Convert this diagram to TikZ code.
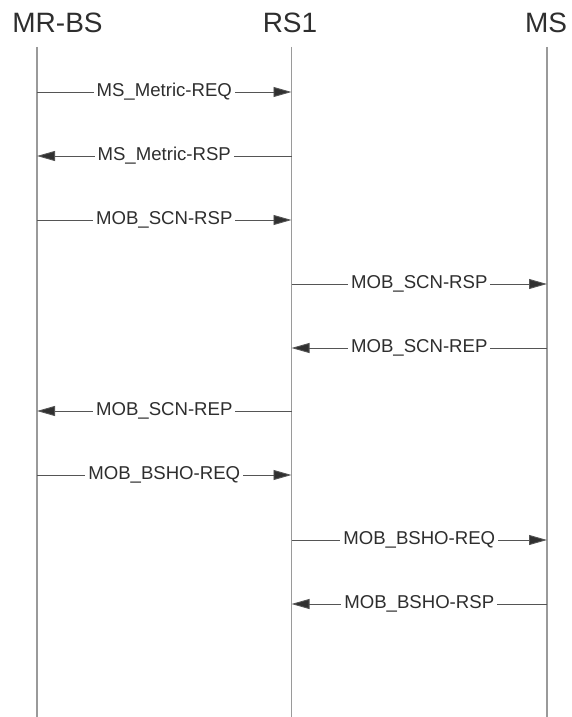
\documentclass[tikz,border=0pt]{standalone}
\usepackage{fontspec}
\setmainfont{Liberation Sans}
\usetikzlibrary{arrows.meta}
\definecolor{lifegray}{HTML}{9A9A9A}
\definecolor{msggray}{HTML}{555555}
\definecolor{txtgray}{HTML}{2E2E2E}
\definecolor{tipgray}{HTML}{303030}
\begin{document}
\begin{tikzpicture}[x=1pt,y=-1pt,
  headlbl/.style={anchor=base,text=txtgray,font=\fontsize{28}{30}\selectfont,inner sep=0pt},
  lifeline/.style={draw=lifegray,line width=1.5pt},
  msg/.style={draw=msggray,line width=0.9pt,-{Triangle[length=18pt,width=10pt,fill=tipgray]},shorten >=0pt},
  msglbl/.style={fill=white,text=txtgray,font=\fontsize{18.6}{20}\selectfont,inner xsep=3pt,inner ysep=1pt}]
\useasboundingbox (0,0) rectangle (571,717);
% headers
\node[headlbl] (hA) at (57.5,33) {MR-BS};
\node[headlbl] (hB) at (290,33) {RS1};
\node[headlbl] (hC) at (546,33) {MS};
% lifelines
\coordinate (At) at (37,47);  \coordinate (Ab) at (37,717);
\coordinate (Bt) at (291.5,47); \coordinate (Bb) at (291.5,717);
\coordinate (Ct) at (547,47); \coordinate (Cb) at (547,717);
\draw[lifeline] (At) -- (Ab);
\draw[lifeline] (Bt) -- (Bb);
\draw[lifeline] (Ct) -- (Cb);
% message endpoints
\coordinate (A1) at (37,92);    \coordinate (B1) at (291.5,92);
\coordinate (A2) at (37,156);   \coordinate (B2) at (291.5,156);
\coordinate (A3) at (37,220);   \coordinate (B3) at (291.5,220);
\coordinate (B4) at (291.5,284);\coordinate (C4) at (547,284);
\coordinate (B5) at (291.5,348);\coordinate (C5) at (547,348);
\coordinate (A6) at (37,411);   \coordinate (B6) at (291.5,411);
\coordinate (A7) at (37,475);   \coordinate (B7) at (291.5,475);
\coordinate (B8) at (291.5,540);\coordinate (C8) at (547,540);
\coordinate (B9) at (291.5,604);\coordinate (C9) at (547,604);
% messages
\draw[msg] (A1) -- node[msglbl] (m1) {MS\_Metric-REQ} (B1);
\draw[msg] (B2) -- node[msglbl] (m2) {MS\_Metric-RSP} (A2);
\draw[msg] (A3) -- node[msglbl] (m3) {MOB\_SCN-RSP} (B3);
\draw[msg] (B4) -- node[msglbl] (m4) {MOB\_SCN-RSP} (C4);
\draw[msg] (C5) -- node[msglbl] (m5) {MOB\_SCN-REP} (B5);
\draw[msg] (B6) -- node[msglbl] (m6) {MOB\_SCN-REP} (A6);
\draw[msg] (A7) -- node[msglbl] (m7) {MOB\_BSHO-REQ} (B7);
\draw[msg] (B8) -- node[msglbl] (m8) {MOB\_BSHO-REQ} (C8);
\draw[msg] (C9) -- node[msglbl] (m9) {MOB\_BSHO-RSP} (B9);
\end{tikzpicture}
\end{document}
